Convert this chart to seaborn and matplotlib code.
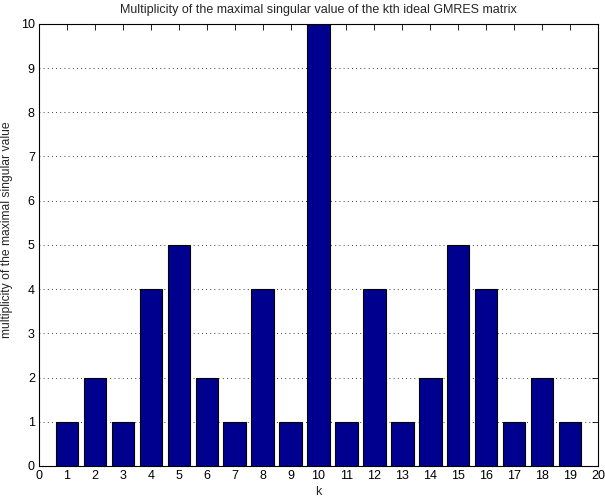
import pandas as pd
import matplotlib
matplotlib.use('Agg')
import matplotlib.pyplot as plt
import seaborn as sns

# data
k = list(range(1, 20))
multiplicity = [1, 2, 1, 4, 5, 2, 1, 4, 1, 10, 1, 4, 1, 2, 5, 4, 1, 2, 1]

df = pd.DataFrame({'k': k, 'mult': multiplicity})

sns.set_style('white')
plt.rcParams['font.family'] = ['Liberation Sans', 'DejaVu Sans']
plt.rcParams['font.size'] = 9

fig = plt.figure(figsize=(6.05, 4.97), dpi=100)
ax = fig.add_axes([0.0645, 0.0624, 0.924, 0.8896])

sns.barplot(data=df, x='k', y='mult', native_scale=True, width=0.8,
            color='#00008F', saturation=1, edgecolor='black', linewidth=0.8,
            ax=ax, zorder=2)

ax.set_xlim(0, 20)
ax.set_ylim(0, 10)
ax.set_xticks(range(0, 21))
ax.set_yticks(range(0, 11))
ax.tick_params(direction='in', top=True, right=True, length=4, width=0.6,
               labelsize=9, pad=3, colors='black')
ax.yaxis.grid(True, linestyle=(0, (1, 4)), color='black', linewidth=0.6, zorder=0)
ax.xaxis.grid(False)
ax.set_axisbelow(True)
for s in ax.spines.values():
    s.set_color('black')
    s.set_linewidth(0.8)

ax.set_title('Multiplicity of the maximal singular value of the kth ideal GMRES matrix',
             fontsize=9, pad=8)
ax.set_xlabel('k', fontsize=9, labelpad=3)
ax.set_ylabel('multiplicity of the maximal singular value', fontsize=8.7)
ax.yaxis.set_label_coords(-0.047, 0.535)

fig.savefig('out.png', dpi=100)
